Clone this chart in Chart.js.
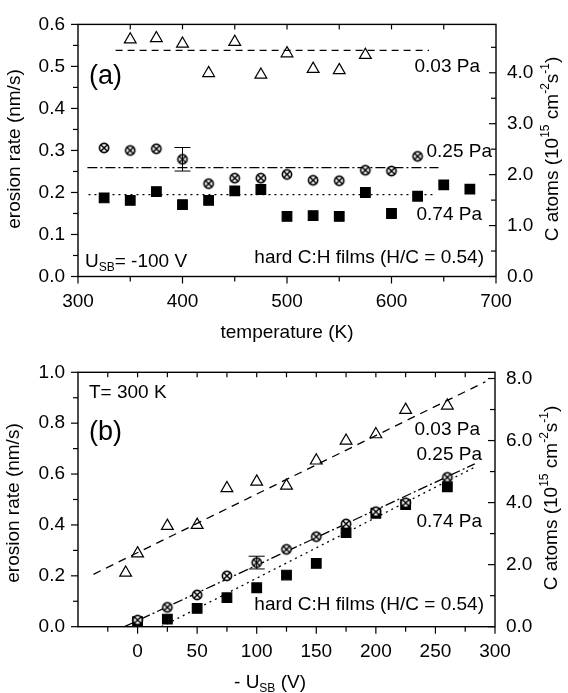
<!DOCTYPE html>
<html>
<head>
<meta charset="utf-8">
<script src="https://cdn.jsdelivr.net/npm/chart.js@4.4.1/dist/chart.umd.min.js"></script>
<style>
  html, body { margin: 0; padding: 0; background: #fff; }
  #wrap { position: relative; width: 568px; height: 693px; }
  canvas { position: absolute; left: 0; }
  #chartA { top: 0; }
  #chartB { top: 346px; }
</style>
</head>
<body>
<div id="wrap">
  <canvas id="chartA" width="568" height="346"></canvas>
  <canvas id="chartB" width="568" height="347"></canvas>
</div>
<script>
/* Erosion rate of hard C:H films — two panels, (a) vs temperature, (b) vs bias */

// ---- panel (a): erosion rate vs temperature (U_SB = -100 V)
const tempA03 = [350, 375, 400, 425, 450, 475, 500, 525, 550, 575];
const rateA03 = [0.564, 0.567, 0.554, 0.484, 0.558, 0.480, 0.531, 0.494, 0.491, 0.527];
const tempA25 = [325, 350, 375, 400, 425, 450, 475, 500, 525, 550, 575, 600, 625];
const rateA25 = [0.306, 0.300, 0.304, 0.279, 0.221, 0.234, 0.234, 0.243, 0.229, 0.228, 0.253, 0.251, 0.286];
const tempA74 = [325, 350, 375, 400, 425, 450, 475, 500, 525, 550, 575, 600, 625, 650, 675];
const rateA74 = [0.187, 0.181, 0.202, 0.171, 0.181, 0.204, 0.207, 0.143, 0.145, 0.143, 0.200, 0.150, 0.191, 0.218, 0.208];

// mean lines (end points)
const fitA03X = [336, 636], fitA03Y = [0.538, 0.538];
const fitA25X = [309, 645], fitA25Y = [0.259, 0.259];
const fitA74X = [310, 641], fitA74Y = [0.195, 0.195];

// error bar
const errAX = [400], errAY = [0.279], errAE = [0.028];

// axis ticks
const xTicksA = [300, 400, 500, 600, 700];
const xMinorA = [350, 450, 550, 650];
const xTopA = [350, 400, 450, 500, 550, 600, 650];
const yTicksA = [0, 0.1, 0.2, 0.3, 0.4, 0.5, 0.6];
const yMinorA = [0.05, 0.15, 0.25, 0.35, 0.45, 0.55];
const y2TicksA = [0, 1, 2, 3, 4];
const y2MinorA = [0.5, 1.5, 2.5, 3.5, 4.5];

// ---- panel (b): erosion rate vs bias (T = 300 K)
const biasB03 = [-10, 0, 25, 50, 75, 100, 125, 150, 175, 200, 225, 260];
const rateB03 = [0.212, 0.288, 0.396, 0.400, 0.544, 0.570, 0.554, 0.653, 0.731, 0.756, 0.852, 0.869];
const biasB25 = [0, 25, 50, 75, 100, 125, 150, 175, 200, 225, 260];
const rateB25 = [0.026, 0.076, 0.125, 0.200, 0.252, 0.304, 0.354, 0.404, 0.452, 0.487, 0.587];
const biasB74 = [0, 25, 50, 75, 100, 125, 150, 175, 200, 225, 260];
const rateB74 = [0.020, 0.030, 0.072, 0.114, 0.153, 0.203, 0.249, 0.370, 0.446, 0.480, 0.550];

const fitB03X = [-37, 292], fitB03Y = [0.206, 0.963];
const fitB25X = [-11, 283], fitB25Y = [0.0, 0.640];
const fitB74X = [20, 283], fitB74Y = [0.0, 0.627];

const errBX = [100], errBY = [0.252], errBE = [0.025];

const xTicksB = [0, 50, 100, 150, 200, 250, 300];
const xMinorB = [-25, 25, 75, 125, 175, 225, 275];
const xTopB = [-25, 0, 25, 50, 75, 100, 125, 150, 175, 200, 225, 250, 275];
const yTicksB = [0, 0.2, 0.4, 0.6, 0.8, 1.0];
const yMinorB = [0.1, 0.3, 0.5, 0.7, 0.9];
const y2TicksB = [0, 2, 4, 6, 8];
const y2MinorB = [1, 3, 5, 7];

const FONT = "'Liberation Sans', Arial, Helvetica, sans-serif";
const tickFont = { family: FONT, size: 19 };

// helpers
const pts = (xs, ys) => xs.map((x, i) => ({ x, y: ys[i] }));
const setTicks = arr => s => { s.ticks = arr.map(v => ({ value: v })); };

function crossCircle(r) {
  const c = document.createElement("canvas");
  const s = Math.ceil(2 * r + 4);
  c.width = c.height = s;
  const g = c.getContext("2d");
  const m = s / 2;
  g.lineWidth = 1.7;
  g.strokeStyle = "#000";
  g.fillStyle = "#fff";
  g.beginPath(); g.arc(m, m, r, 0, Math.PI * 2); g.fill(); g.stroke();
  const d = r * 0.72;
  g.lineWidth = 1.5;
  g.beginPath();
  g.moveTo(m - d, m - d); g.lineTo(m + d, m + d);
  g.moveTo(m + d, m - d); g.lineTo(m - d, m + d);
  g.stroke();
  return c;
}
const circX = crossCircle(4.6);

// text with sub/superscripts; parts = [[text, ''|'sup'|'sub'], ...]
function richText(ctx, parts, x, y, size, align, angle) {
  ctx.save();
  ctx.translate(x, y);
  if (angle) ctx.rotate(angle);
  ctx.textBaseline = "middle";
  ctx.textAlign = "left";
  ctx.fillStyle = "#000";
  const small = Math.round(size * 0.62);
  const fontFor = k => (k ? small : size) + "px " + FONT;
  let total = 0;
  parts.forEach(([t, k]) => { ctx.font = fontFor(k); total += ctx.measureText(t).width; });
  let cx = align === "center" ? -total / 2 : align === "right" ? -total : 0;
  parts.forEach(([t, k]) => {
    ctx.font = fontFor(k);
    const dy = k === "sup" ? -size * 0.4 : k === "sub" ? size * 0.32 : 0;
    ctx.fillText(t, cx, dy);
    cx += ctx.measureText(t).width;
  });
  ctx.restore();
}

// frame, tick marks and error bars, drawn through the chart scales
const frameTicks = {
  id: "frameTicks",
  afterDraw(chart, args, o) {
    const { ctx, chartArea: a, scales } = chart;
    const sx = scales.x, sy = scales.y, sy2 = scales.y2;
    ctx.save();
    ctx.strokeStyle = "#000";
    ctx.lineWidth = 1.4;
    ctx.strokeRect(a.left, a.top, a.right - a.left, a.bottom - a.top);
    ctx.lineWidth = 1.2;
    const line = (x1, y1, x2, y2) => { ctx.beginPath(); ctx.moveTo(x1, y1); ctx.lineTo(x2, y2); ctx.stroke(); };
    o.xMajor.forEach(v => { const p = sx.getPixelForValue(v); line(p, a.bottom, p, a.bottom + 7); });
    o.xMinor.forEach(v => { const p = sx.getPixelForValue(v); line(p, a.bottom, p, a.bottom + 5); });
    o.xTop.forEach(v => { const p = sx.getPixelForValue(v); line(p, a.top, p, a.top + 5); });
    o.yMajor.forEach(v => { const p = sy.getPixelForValue(v); line(a.left - 7, p, a.left, p); });
    o.yMinor.forEach(v => { const p = sy.getPixelForValue(v); line(a.left - 5, p, a.left, p); });
    o.y2Major.forEach(v => { const p = sy2.getPixelForValue(v); line(a.right - 7, p, a.right, p); });
    o.y2Minor.forEach(v => { const p = sy2.getPixelForValue(v); line(a.right - 5, p, a.right, p); });
    // error bars
    ctx.lineWidth = 1;
    o.errX.forEach((xv, i) => {
      const px = sx.getPixelForValue(xv);
      const top = sy.getPixelForValue(o.errY[i] + o.errE[i]);
      const bot = sy.getPixelForValue(o.errY[i] - o.errE[i]);
      line(px, top, px, bot);
      line(px - 8, top, px + 8, top);
      line(px - 8, bot, px + 8, bot);
    });
    ctx.restore();
    o.notes(ctx);
  }
};

function fitSet(xs, ys, dash) {
  return {
    data: pts(xs, ys), showLine: true, pointRadius: 0, borderColor: "#000",
    borderWidth: 1.3, borderDash: dash, order: 2, fill: false
  };
}
function pointSet(xs, ys, style, radius, fillColor) {
  return {
    data: pts(xs, ys), showLine: false, pointStyle: style, pointRadius: radius,
    pointBorderColor: "#000", pointBackgroundColor: fillColor, pointBorderWidth: 1.2, order: 1
  };
}

function makeScales(cfg) {
  return {
    x: {
      type: "linear", min: cfg.xMin, max: cfg.xMax,
      afterBuildTicks: setTicks(cfg.xTicks),
      afterFit: s => { s.height = cfg.xHeight; },
      grid: { display: false, drawTicks: false }, border: { display: false },
      ticks: { font: tickFont, color: "#000", padding: 14, maxRotation: 0, autoSkip: false,
               callback: v => String(v) }
    },
    y: {
      position: "left", min: 0, max: cfg.yMax,
      afterBuildTicks: setTicks(cfg.yTicks),
      afterFit: s => { s.width = cfg.left; },
      grid: { display: false, drawTicks: false }, border: { display: false },
      ticks: { font: tickFont, color: "#000", padding: 13, autoSkip: false, callback: v => v.toFixed(1) }
    },
    y2: {
      position: "right", min: 0, max: cfg.y2Max,
      afterBuildTicks: setTicks(cfg.y2Ticks),
      afterFit: s => { s.width = 568 - cfg.right; },
      grid: { display: false, drawTicks: false }, border: { display: false },
      ticks: { font: tickFont, color: "#000", padding: 11, autoSkip: false, callback: v => v.toFixed(1) }
    }
  };
}

const rightTitle = [["C atoms (10", ""], ["15", "sup"], [" cm", ""], ["-2", "sup"], ["s", ""], ["-1", "sup"], [")", ""]];

// ---- chart (a)
new Chart(document.getElementById("chartA"), {
  type: "scatter",
  data: {
    datasets: [
      fitSet(fitA03X, fitA03Y, [7, 5]),
      fitSet(fitA25X, fitA25Y, [10, 3, 2, 3]),
      fitSet(fitA74X, fitA74Y, [2, 4]),
      pointSet(tempA03, rateA03, "triangle", 6.8, "rgba(255,255,255,0)"),
      pointSet(tempA25, rateA25, circX, 5, "#fff"),
      pointSet(tempA74, rateA74, "rect", 6.8, "#000")
    ]
  },
  options: {
    responsive: false, animation: false, devicePixelRatio: 1,
    layout: { padding: { top: 21.5, left: 0, right: 0, bottom: 0 } },
    scales: makeScales({ xMin: 300, xMax: 700, xTicks: xTicksA, xHeight: 346 - 276.5,
                         yMax: 0.6, yTicks: yTicksA, y2Max: 4.95, y2Ticks: y2TicksA,
                         left: 78, right: 496 }),
    plugins: {
      legend: { display: false }, tooltip: { enabled: false },
      frameTicks: {
        xMajor: xTicksA, xMinor: xMinorA, xTop: xTopA,
        yMajor: yTicksA, yMinor: yMinorA, y2Major: y2TicksA, y2Minor: y2MinorA,
        errX: errAX, errY: errAY, errE: errAE,
        notes: ctx => {
          richText(ctx, [["(a)", ""]], 89, 77, 27, "left");
          richText(ctx, [["0.03 Pa", ""]], 480, 67, 19, "right");
          richText(ctx, [["0.25 Pa", ""]], 492, 152, 19, "right");
          richText(ctx, [["0.74 Pa", ""]], 482, 215, 19, "right");
          richText(ctx, [["hard C:H films (H/C = 0.54)", ""]], 484, 258, 19, "right");
          richText(ctx, [["U", ""], ["SB", "sub"], ["= -100 V", ""]], 85, 262, 19, "left");
          richText(ctx, [["erosion rate (nm/s)", ""]], 15, 149, 19, "center", -Math.PI / 2);
          richText(ctx, rightTitle, 553, 149, 19, "center", -Math.PI / 2);
          richText(ctx, [["temperature (K)", ""]], 287, 333, 19, "center");
        }
      }
    }
  },
  plugins: [frameTicks]
});

// ---- chart (b)
new Chart(document.getElementById("chartB"), {
  type: "scatter",
  data: {
    datasets: [
      fitSet(fitB03X, fitB03Y, [8, 6]),
      fitSet(fitB25X, fitB25Y, [10, 3, 2, 3]),
      fitSet(fitB74X, fitB74Y, [2, 4]),
      pointSet(biasB03, rateB03, "triangle", 6.8, "rgba(255,255,255,0)"),
      pointSet(biasB25, rateB25, circX, 5, "#fff"),
      pointSet(biasB74, rateB74, "rect", 6.8, "#000")
    ]
  },
  options: {
    responsive: false, animation: false, devicePixelRatio: 1,
    layout: { padding: { top: 26.3, left: 0, right: 0, bottom: 0 } },
    scales: makeScales({ xMin: -50, xMax: 300, xTicks: xTicksB, xHeight: 347 - 280.7,
                         yMax: 1.0, yTicks: yTicksB, y2Max: 8.2, y2Ticks: y2TicksB,
                         left: 78, right: 495 }),
    plugins: {
      legend: { display: false }, tooltip: { enabled: false },
      frameTicks: {
        xMajor: xTicksB, xMinor: xMinorB, xTop: xTopB,
        yMajor: yTicksB, yMinor: yMinorB, y2Major: y2TicksB, y2Minor: y2MinorB,
        errX: errBX, errY: errBY, errE: errBE,
        notes: ctx => {
          richText(ctx, [["T= 300 K", ""]], 89, 47, 19, "left");
          richText(ctx, [["(b)", ""]], 89, 87, 27, "left");
          richText(ctx, [["0.03 Pa", ""]], 480, 84, 19, "right");
          richText(ctx, [["0.25 Pa", ""]], 482, 109, 19, "right");
          richText(ctx, [["0.74 Pa", ""]], 482, 176, 19, "right");
          richText(ctx, [["hard C:H films (H/C = 0.54)", ""]], 484, 259, 19, "right");
          richText(ctx, [["erosion rate (nm/s)", ""]], 14, 157, 19, "center", -Math.PI / 2);
          richText(ctx, rightTitle, 552, 152, 19, "center", -Math.PI / 2);
          richText(ctx, [["- U", ""], ["SB", "sub"], [" (V)", ""]], 270, 337, 19, "center");
        }
      }
    }
  },
  plugins: [frameTicks]
});
</script>
</body>
</html>
